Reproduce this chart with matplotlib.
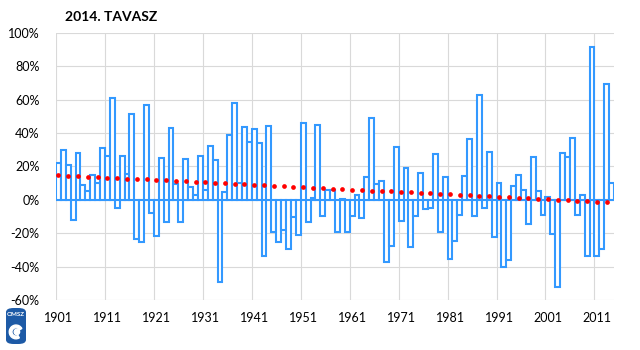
import numpy as np
import matplotlib
matplotlib.use('Agg')
import matplotlib.pyplot as plt
from matplotlib.patches import FancyBboxPatch, Wedge

plt.rcParams['font.family'] = ['Lato', 'DejaVu Sans']

# spring precipitation anomaly (%), 1901-2014
years = list(range(1901, 2015))
values = [
    22, 30, 21, -12, 28, 9, 5.6, 15, 10, 31,          # 1901-1910
    26, 61, -5, 26, 15.6, 51.4, -23.4, -25, 57, -8,   # 1911-1920
    -21.6, 24.8, -13, 42.8, 9.4, -13, 24.6, 7.6, 3, 26.4,  # 1921-1930
    6, 32, 23.6, -49, 5, 39, 58, 10, 43.4, 34.6,      # 1931-1940
    42.6, 34, -33.6, 44.4, -19, -25.4, -18, -29.4, -10.4, -21,  # 1941-1950
    46, -13.4, 1.4, 44.8, -9.4, 5.8, 6, -19.4, 0.6, -19.4,  # 1951-1960
    -9.6, 3.2, -10.6, 14, 49, 9.4, 11.6, -37.4, -27.4, 31.4,  # 1961-1970
    -12.6, 19.4, -28, -9.4, 16, -5.6, -4.6, 27.6, -19.4, 13.6,  # 1971-1980
    -35.4, -24.4, -9, 14.4, 36.6, -9.4, 62.6, -4.6, 28.4, -22,  # 1981-1990
    10, -40, -36, 8.6, 14.8, 5.8, -14.6, 25.6, 5.4, -9,  # 1991-2000
    2, -20.6, -52.4, 27.8, 25.4, 37.2, -9, 3, -33.4, 91.6,  # 2001-2010
    -33.4, -29.2, 69.6, 10.2,                          # 2011-2014
]
y_ticks = [-60, -40, -20, 0, 20, 40, 60, 80, 100]
x_label_years = [1901, 1911, 1921, 1931, 1941, 1951, 1961, 1971, 1981, 1991, 2001, 2011]

fig = plt.figure(figsize=(6.4, 3.5), dpi=100)
ax = fig.add_axes([56 / 640, 1 - 300 / 350, 558 / 640, 267 / 350])

x = np.arange(len(years))
ax.bar(x, values, width=1.0, facecolor='white', edgecolor='#3399ff',
       linewidth=1.5, zorder=3)

# linear trend drawn as round dots
coef = np.polyfit(x, values, 1)
xt = x[::2]
ax.plot(xt, np.polyval(coef, xt), linestyle='none', marker='o',
        markersize=3.4, color='#ff0000', markeredgewidth=0, zorder=4)

ax.set_xlim(-0.5, len(years) - 0.5)
ax.set_ylim(-60, 100)
ax.set_yticks(y_ticks)
ax.set_yticklabels([f'{v}%' for v in y_ticks])

lab_pos = [years.index(y) for y in x_label_years]
ax.set_xticks(lab_pos)
ax.set_xticklabels([str(y) for y in x_label_years])

# gridlines: horizontal every 20%, vertical at left edge of each decade
for v in y_ticks:
    ax.axhline(v, color='#d9d9d9', linewidth=0.8, zorder=1)
for p in lab_pos:
    ax.axvline(p - 0.5, color='#d9d9d9', linewidth=0.8, zorder=1)

for s in ax.spines.values():
    s.set_visible(False)
ax.tick_params(length=0, labelsize=9, colors='#000000')
ax.tick_params(axis='y', pad=12)
ax.tick_params(axis='x', pad=9)

fig.text(65 / 640, 1 - 17 / 350, '2014. TAVASZ', fontsize=10,
         fontweight='bold', va='center', ha='left')

# OMSZ logo (simplified)
logo = FancyBboxPatch((6 / 640, 1 - 344 / 350), 20 / 640, 36 / 350,
                      boxstyle='round,pad=0,rounding_size=0.012',
                      transform=fig.transFigure, facecolor='#1d5aa6',
                      edgecolor='none', zorder=1)
fig.patches.append(logo)
lax = fig.add_axes([7 / 640, 1 - 342 / 350, 18 / 640, 22 / 350])
lax.set_zorder(3)
lax.set_xlim(-1, 1)
lax.set_ylim(-1.2, 1.2)
lax.axis('off')
lax.add_patch(Wedge((0, -0.1), 0.75, 30, 300, width=0.3, color='white'))
lax.add_patch(Wedge((0.1, -0.1), 0.3, 0, 360, color='white'))
fig.text(16 / 640, 1 - 314 / 350, 'OMSZ', fontsize=4.5, color='white',
         fontweight='bold', ha='center', va='center', zorder=4)

fig.savefig('out.png', dpi=100)
